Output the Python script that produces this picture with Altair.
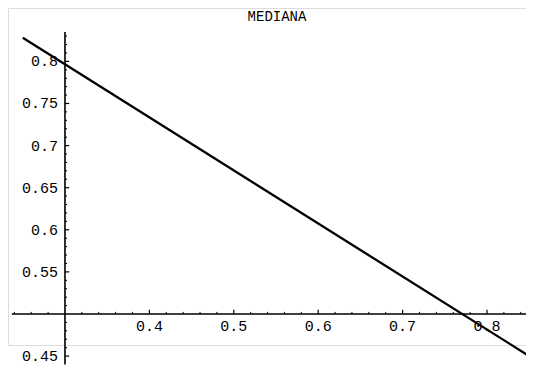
import altair as alt
import pandas as pd

# Data
line_x = [0.25, 0.85]
line_y = [0.828, 0.450]

x_major = [0.4, 0.5, 0.6, 0.7, 0.8]
x_labels = ["0.4", "0.5", "0.6", "0.7", "0.8"]
y_major = [0.45, 0.55, 0.6, 0.65, 0.7, 0.75, 0.8]
y_labels = ["0.45", "0.55", "0.6", "0.65", "0.7", "0.75", "0.8"]
x_minor = [0.24, 0.26, 0.28, 0.32, 0.34, 0.36, 0.38, 0.42, 0.44, 0.46, 0.48,
           0.52, 0.54, 0.56, 0.58, 0.62, 0.64, 0.66, 0.68, 0.72, 0.74, 0.76,
           0.78, 0.82, 0.84]
y_minor = [0.46, 0.47, 0.48, 0.49, 0.51, 0.52, 0.53, 0.54, 0.56, 0.57, 0.58,
           0.59, 0.61, 0.62, 0.63, 0.64, 0.66, 0.67, 0.68, 0.69, 0.71, 0.72,
           0.73, 0.74, 0.76, 0.77, 0.78, 0.79, 0.81, 0.82, 0.83]
origin_x = 0.3
origin_y = 0.5
x_axis_span = [0.237, 0.86]
y_axis_span = [0.44, 0.835]
title_text = "MEDIANA"

FONT = "Liberation Mono, DejaVu Sans Mono, monospace"
W, H = 518, 337
x_dom = [0.2325, 0.8462]
y_dom = [0.8634 - H / 842.0, 0.8634]

xs = alt.Scale(domain=x_dom, nice=False, zero=False)
ys = alt.Scale(domain=y_dom, nice=False, zero=False)
noax = None

def X(field):
    return alt.X(field, type="quantitative", scale=xs, axis=noax)

def Y(field):
    return alt.Y(field, type="quantitative", scale=ys, axis=noax)

line_df = pd.DataFrame({"x": line_x, "y": line_y})
line = alt.Chart(line_df).mark_line(color="black", strokeWidth=2.3, clip=False).encode(
    x=X("x"), y=Y("y"))

xaxis = alt.Chart(pd.DataFrame({"x": [x_axis_span[0]], "x2": [x_axis_span[1]], "y": [origin_y]})).mark_rule(
    color="black", strokeWidth=1.6).encode(x=X("x"), x2="x2", y=Y("y"))
yaxis = alt.Chart(pd.DataFrame({"y": [y_axis_span[0]], "y2": [y_axis_span[1]], "x": [origin_x]})).mark_rule(
    color="black", strokeWidth=1.6).encode(y=Y("y"), y2="y2", x=X("x"))

xmaj_df = pd.DataFrame({"x": x_major, "lab": x_labels})
xmaj = alt.Chart(xmaj_df).transform_calculate(y0=str(origin_y), y1=str(origin_y + 0.005)).mark_rule(
    color="black", strokeWidth=1.2).encode(x=X("x"), y=Y("y0"), y2="y1:Q")
xmin = alt.Chart(pd.DataFrame({"x": x_minor})).transform_calculate(y0=str(origin_y), y1=str(origin_y + 0.0025)).mark_rule(
    color="black", strokeWidth=1).encode(x=X("x"), y=Y("y0"), y2="y1:Q")
xlab = alt.Chart(xmaj_df).transform_calculate(y0=str(origin_y)).mark_text(
    font=FONT, fontSize=15, baseline="top", align="center", dy=5, color="black").encode(
    x=X("x"), y=Y("y0"), text="lab:N")

ymaj_df = pd.DataFrame({"y": y_major, "lab": y_labels})
ymaj = alt.Chart(ymaj_df).transform_calculate(x0=str(origin_x), x1=str(origin_x + 0.005)).mark_rule(
    color="black", strokeWidth=1.2).encode(y=Y("y"), x=X("x0"), x2="x1:Q")
ymin = alt.Chart(pd.DataFrame({"y": y_minor})).transform_calculate(x0=str(origin_x), x1=str(origin_x + 0.0025)).mark_rule(
    color="black", strokeWidth=1).encode(y=Y("y"), x=X("x0"), x2="x1:Q")
ylab = alt.Chart(ymaj_df).transform_calculate(x0=str(origin_x)).mark_text(
    font=FONT, fontSize=15, baseline="middle", align="right", dx=-7, color="black").encode(
    x=X("x0"), y=Y("y"), text="lab:N")

title = alt.Chart(pd.DataFrame({"t": [title_text]})).mark_text(
    font=FONT, fontSize=14, baseline="top", align="center", color="black").encode(
    x=alt.value(269), y=alt.value(2), text="t:N")

chart = alt.layer(xmin, ymin, xaxis, yaxis, xmaj, ymaj, xlab, ylab, line, title).properties(
    width=W, height=H,
    autosize=alt.AutoSizeParams(type="none"),
    padding={"left": 0, "top": 0, "right": 0, "bottom": 22},
).configure_view(stroke="transparent", strokeWidth=0).configure(background="white")

chart.save("out.html", embed_options={"renderer": "svg", "actions": False})
